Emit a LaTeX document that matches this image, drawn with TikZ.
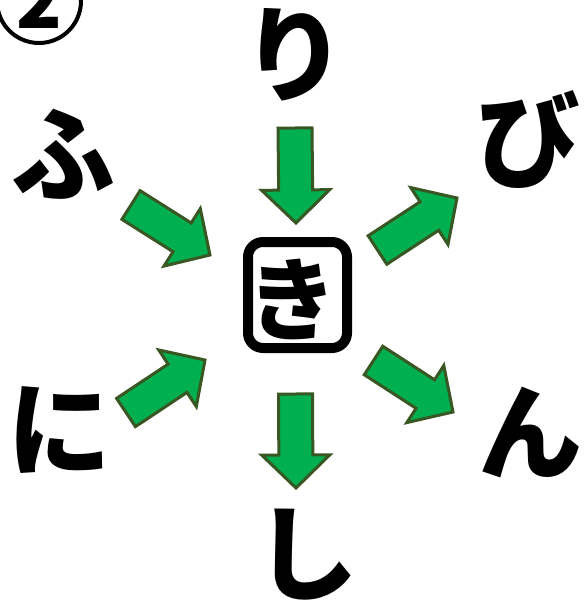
\documentclass[tikz,border=0pt]{standalone}
\usepackage{fontspec}
\newfontfamily\jp{Noto Sans CJK JP}
\usetikzlibrary{calc}
\definecolor{arrowfill}{HTML}{00B050}
\definecolor{arrowline}{HTML}{385723}
\tikzset{
  kana/.style={inner sep=0pt, font=\jp\bfseries\fontsize{104}{104}\selectfont},
  smallkana/.style={inner sep=0pt, font=\jp\bfseries\fontsize{90}{90}\selectfont},
  greenarr/.style={fill=arrowfill, draw=arrowline, line width=3pt, line join=miter},
  centerbox/.style={draw, line width=10pt, rounded corners=15pt, minimum width=99pt, minimum height=106pt, inner sep=0pt},
  numcircle/.style={circle, draw, line width=4pt, minimum size=84pt, inner sep=0pt, font=\jp\bfseries\fontsize{75}{75}\selectfont}
}
\newcommand\garrow[2]{%
  \coordinate (h) at ($(#2)!33pt!(#1)$);
  \draw[greenarr] ($(#1)!17pt!90:(#2)$) -- ($(h)!17pt!90:(#2)$) -- ($(h)!34pt!90:(#2)$) -- (#2)
    -- ($(h)!34pt!-90:(#2)$) -- ($(h)!17pt!-90:(#2)$) -- ($(#1)!17pt!-90:(#2)$) -- cycle;}
\begin{document}
\begin{tikzpicture}[x=1pt,y=-1pt]
\useasboundingbox (0,0) rectangle (586,608);
\node[numcircle] (num) at (39,1) {2};
\node[centerbox] (box) at (297.5,295) {};
\node[smallkana] (ki) at (292,299) {き};
\node[kana] (ri) at (294,55) {り};
\node[kana] (fu) at (63,154) {ふ};
\node[kana] (bi) at (528,140) {び};
\node[kana] (ni) at (59,430) {に};
\node[kana] (n) at (530,432) {ん};
\node[kana] (shi) at (306,555) {し};
% arrows: tail and tip coordinates
\coordinate (t1) at (295,128);   \coordinate (p1) at (296,223);
\coordinate (t2) at (295.5,394); \coordinate (p2) at (296,488);
\coordinate (t3) at (131,205);   \coordinate (p3) at (210,255);
\coordinate (t4) at (377.5,250); \coordinate (p4) at (457,198);
\coordinate (t5) at (126,412.5); \coordinate (p5) at (205,360);
\coordinate (t6) at (373.5,360.5); \coordinate (p6) at (453,412);
\garrow{t1}{p1}
\garrow{t2}{p2}
\garrow{t3}{p3}
\garrow{t4}{p4}
\garrow{t5}{p5}
\garrow{t6}{p6}
\end{tikzpicture}
\end{document}
